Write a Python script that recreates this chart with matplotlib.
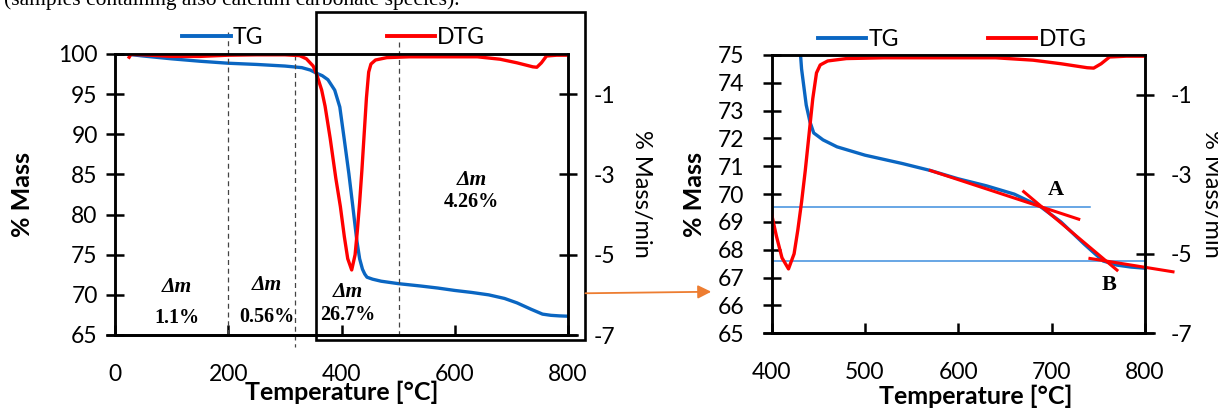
import matplotlib.pyplot as plt
from matplotlib.patches import Rectangle, FancyArrowPatch
from matplotlib.lines import Line2D

plt.rcParams['font.family'] = ['Lato', 'DejaVu Sans']
plt.rcParams['axes.unicode_minus'] = False

# TG curve (% mass)
temp = [25, 50, 100, 150, 200, 250, 300, 330, 345, 356, 366, 376, 388, 397, 405, 413,
        420, 427, 432, 437, 441, 445, 455, 470, 500, 540, 570, 600, 630, 660, 688,
        710, 735, 755, 770, 785, 800]
tg = [99.95, 99.75, 99.4, 99.1, 98.85, 98.7, 98.5, 98.3, 98.0, 97.6, 97.3, 96.8, 95.5,
      93.4, 89.3, 85.1, 81.0, 76.8, 74.5, 73.2, 72.6, 72.2, 71.95, 71.7, 71.4, 71.1,
      70.85, 70.55, 70.3, 70.0, 69.55, 69.0, 68.2, 67.6, 67.45, 67.38, 67.34]

# DTG curve (% mass/min)
dtg_temp = [25, 28, 50, 100, 150, 200, 250, 300, 326, 338, 350, 356, 365, 371, 380, 390,
            398, 405, 411, 418, 424, 428, 432, 436, 440, 444, 448, 452, 460, 480, 520,
            640, 680, 710, 738, 745, 753, 762, 780, 800]
dtg = [-0.08, -0.01, -0.02, -0.06, -0.06, -0.03, -0.02, -0.02, -0.04, -0.12, -0.3, -0.5,
       -0.9, -1.3, -2.1, -3.1, -3.8, -4.55, -5.1, -5.38, -5.0, -4.4, -3.7, -2.9, -2.0,
       -1.1, -0.45, -0.25, -0.15, -0.09, -0.07, -0.07, -0.13, -0.22, -0.32, -0.33,
       -0.22, -0.05, -0.03, -0.03]

# step boundaries and mass-loss labels (left panel)
bound_x = [200, 318, 501]
bound_top = [102.7, 99.9, 101.5]
bound_bottom = [65, 63.55, 64.4]
dm_x = [109, 268, 411, 630]
dm_y = [71.0, 71.2, 70.4, 84.3]
dm_val_y = [67.1, 67.3, 67.5, 81.6]
dm_vals = ['1.1%', '0.56%', '26.7%', '4.26%']

# onset construction (right panel)
level_y = [69.55, 67.6]
level_end = [741, 800]
tan_x = [[570, 729], [670, 770], [741, 830]]
tan_y = [[70.85, 69.1], [70.09, 67.27], [67.69, 67.21]]
point_names = ['A', 'B']
point_x = [704, 762]
point_y = [70.16, 66.74]

blue = '#0A66C2'
red = '#FF0000'
spw = 1.8

fig = plt.figure(figsize=(12.18, 4.09), dpi=100)
W, H = 1218, 409


def style(ax, axr, ylpad):
    for a in (ax, axr):
        for s in a.spines.values():
            s.set_linewidth(spw)
    ax.tick_params(axis='y', direction='inout', length=13, width=spw, labelsize=16.5, pad=ylpad)
    ax.tick_params(axis='x', direction='in', length=7, width=spw, labelsize=16.5, pad=21)
    axr.tick_params(axis='y', direction='inout', length=13, width=spw, labelsize=16.5, pad=12)


# ---------------- left panel ----------------
ax1 = fig.add_axes([115 / W, (H - 335) / H, 453 / W, 281 / H])
ax1.plot(temp, tg, color=blue, lw=2.4)
ax1.set_xlim(0, 800)
ax1.set_ylim(65, 100)
ax1.set_xticks(range(0, 801, 200))
ax1.set_yticks(range(65, 101, 5))
ax1b = ax1.twinx()
ax1b.plot(dtg_temp, dtg, color=red, lw=2.4)
ax1b.set_ylim(-7, 0)
ax1b.set_yticks([-7, -5, -3, -1])
style(ax1, ax1b, 6)
ax1.axhline(65, xmin=-0.018, xmax=1.02, color='black', lw=spw, clip_on=False)

for x, t, b in zip(bound_x, bound_top, bound_bottom):
    ax1.plot([x, x], [t, b], ls=(0, (4, 3)), color='#444444', lw=0.9, clip_on=False)
for x, y, vy, v in zip(dm_x, dm_y, dm_val_y, dm_vals):
    ax1.text(x, y, 'Δm', ha='center', va='center', fontsize=15.5, fontweight='bold',
             style='italic', family='Liberation Serif')
    ax1.text(x, vy, v, ha='center', va='center', fontsize=14.5, fontweight='bold',
             family='Liberation Serif')

handles = [Line2D([], [], color=blue, lw=2.8), Line2D([], [], color=red, lw=2.8)]
ax1b.legend(handles, ['TG', 'DTG'], loc='center', bbox_to_anchor=(0.483, 1.057), ncol=2,
            frameon=False, fontsize=16.5, handlelength=2.1, columnspacing=5.4,
            handletextpad=0.1, borderpad=0)
ax1.set_xlabel('Temperature [°C]', fontsize=18, fontweight='bold')
ax1.xaxis.set_label_coords(0.5, -0.163)

# ---------------- right panel ----------------
ax2 = fig.add_axes([771.7 / W, (H - 333.3) / H, 373.3 / W, 278.3 / H])
ax2.plot(temp, tg, color=blue, lw=2.4)
ax2.set_xlim(400, 800)
ax2.set_ylim(65, 75)
ax2.set_xticks(range(400, 801, 100))
ax2.set_yticks(range(65, 76))
for y, e in zip(level_y, level_end):
    ax2.plot([400, e], [y, y], color='#3E8EDE', lw=1.1)
for xs, ys in zip(tan_x, tan_y):
    ax2.plot(xs, ys, color=red, lw=2.2, clip_on=False, zorder=4)
for n, x, y in zip(point_names, point_x, point_y):
    ax2.text(x, y, n, ha='center', va='center', fontsize=16, fontweight='bold',
             family='Liberation Serif')
ax2b = ax2.twinx()
ax2b.plot(dtg_temp, dtg, color=red, lw=2.4)
ax2b.set_ylim(-7, 0)
ax2b.set_yticks([-7, -5, -3, -1])
style(ax2, ax2b, 13)
ax2.axhline(65, xmin=-0.021, xmax=1.024, color='black', lw=spw, clip_on=False)
ax2b.legend(handles, ['TG', 'DTG'], loc='center', bbox_to_anchor=(0.484, 1.054), ncol=2,
            frameon=False, fontsize=16.5, handlelength=2.1, columnspacing=3.9,
            handletextpad=0.1, borderpad=0)
ax2.set_xlabel('Temperature [°C]', fontsize=18, fontweight='bold')
ax2.xaxis.set_label_coords(0.547, -0.183)

# ---------------- axis titles, box, arrow, caption ----------------
fig.text(22 / W, 1 - 194 / H, '% Mass', rotation=90, ha='center', va='center',
         fontsize=18, fontweight='bold')
fig.text(694 / W, 1 - 194 / H, '% Mass', rotation=90, ha='center', va='center',
         fontsize=18, fontweight='bold')
fig.text(642 / W, 1 - 194 / H, '% Mass/min', rotation=-90, ha='center', va='center',
         fontsize=17)
fig.text(1212 / W, 1 - 194 / H, '% Mass/min', rotation=-90, ha='center', va='center',
         fontsize=17)

fig.patches.append(Rectangle((316 / W, (H - 339.5) / H), 269 / W, 327.5 / H,
                             transform=fig.transFigure, fill=False, lw=1.9,
                             edgecolor='black'))
fig.patches.append(FancyArrowPatch((582.7 / W, 1 - 293.3 / H), (714 / W, 1 - 291.7 / H),
                                   transform=fig.transFigure, arrowstyle='-|>',
                                   mutation_scale=20, color='#ED7D31', lw=1.3))
fig.text(4 / W, 1 - 5 / H, '(samples containing also calcium carbonate species).',
         ha='left', va='baseline', fontsize=15.5, family='Liberation Serif')

fig.savefig('out.png', dpi=100)
